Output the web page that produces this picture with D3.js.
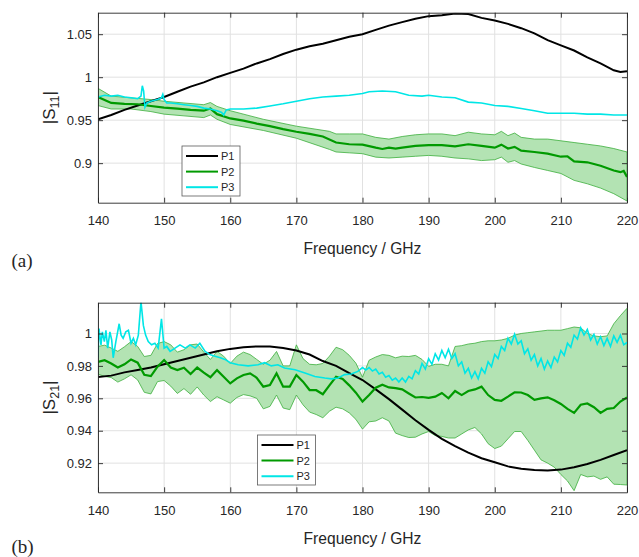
<!DOCTYPE html>
<html>
<head>
<meta charset="utf-8">
<style>
  body { margin: 0; background: #fff; }
  svg text { font-family: "Liberation Sans", Arial, Helvetica, sans-serif; fill: #262626; }
  .panelTag { font-family: "Liberation Serif", "Times New Roman", serif; }
</style>
</head>
<body>
<div id="fig"></div>
<script src="https://cdn.jsdelivr.net/npm/d3@7"></script>
<script>

// legend names + colours
var names = ['P1', 'P2', 'P3'];
var colors = ['#000000', '#009a00', '#00e6e6'];

// axis ticks
var xTicks = [140, 150, 160, 170, 180, 190, 200, 210, 220];
var yTicksA = [0.9, 0.95, 1, 1.05];
var yLabelsA = ['0.9', '0.95', '1', '1.05'];
var yTicksB = [0.92, 0.94, 0.96, 0.98, 1];
var yLabelsB = ['0.92', '0.94', '0.96', '0.98', '1'];

// ---------- (a) |S11| ----------

var fA1 = [140,142,144,146,148,150,152,154,156,158,160,162,164,166,168,170,172,174,176,178,180,182,184,186,188,190,192,194,196,198,200,202,204,206,208,210,212,214,216,218,219,220];
var s11P1 = [0.951,0.956,0.962,0.967,0.972,0.977,0.983,0.989,0.994,1.000,1.005,1.010,1.016,1.021,1.027,1.032,1.036,1.039,1.043,1.047,1.050,1.055,1.060,1.064,1.068,1.071,1.072,1.074,1.0735,1.069,1.066,1.062,1.057,1.051,1.043,1.037,1.031,1.023,1.016,1.008,1.006,1.007];

var fA2 = [140,142,144,146,148,150,152,154,156,157,158,160,162,164,166,168,170,172,174,176,178,180,182,183,184,185,186,188,190,192,194,196,198,200,201,202,203,204,206,208,210,211,212,214,216,218,219,219.5,220];
var s11P2 = [0.977,0.970,0.969,0.9685,0.9665,0.9645,0.9635,0.962,0.961,0.9635,0.957,0.952,0.9495,0.946,0.943,0.9395,0.9365,0.934,0.931,0.924,0.922,0.9215,0.918,0.9165,0.918,0.917,0.918,0.920,0.921,0.921,0.9195,0.922,0.920,0.918,0.9215,0.917,0.919,0.9145,0.913,0.911,0.9075,0.908,0.902,0.901,0.897,0.8915,0.8895,0.891,0.884];

var fA2band = [140,142,145,148,150,153,156,157,158,160,165,170,175,176,178,180,182,184,186,188,190,192,194,196,198,200,201,202,203,204,206,208,210,212,214,216,218,220];
var s11P2up = [0.987,0.978,0.976,0.974,0.972,0.970,0.968,0.9705,0.966,0.961,0.951,0.943,0.937,0.934,0.934,0.934,0.930,0.928,0.931,0.933,0.934,0.934,0.932,0.936,0.934,0.933,0.937,0.932,0.935,0.930,0.928,0.928,0.926,0.924,0.922,0.920,0.917,0.913];
var s11P2lo = [0.967,0.963,0.963,0.960,0.957,0.955,0.953,0.956,0.951,0.945,0.938,0.929,0.916,0.913,0.912,0.911,0.907,0.906,0.907,0.908,0.909,0.908,0.906,0.905,0.903,0.904,0.907,0.901,0.903,0.899,0.895,0.8915,0.888,0.880,0.876,0.871,0.8645,0.856];

var fA3 = [140,141,142,143,144,145,146,146.5,146.7,146.9,147.1,147.4,148,149,149.6,149.8,150,150.4,151,152,153,154,155,156,157,158,158.7,159,159.4,160,162,164,166,168,170,172,174,176,178,180,181,183,185,187,189,190,192,194,196,198,200,202,204,206,208,210,212,214,216,218,220];
var s11P3 = [0.977,0.979,0.978,0.979,0.977,0.976,0.975,0.978,0.990,0.984,0.965,0.970,0.972,0.974,0.976,0.980,0.974,0.970,0.970,0.969,0.968,0.967,0.966,0.964,0.963,0.961,0.959,0.956,0.962,0.963,0.963,0.964,0.9665,0.969,0.972,0.975,0.977,0.978,0.979,0.981,0.983,0.984,0.983,0.979,0.978,0.979,0.977,0.976,0.971,0.970,0.967,0.966,0.9635,0.961,0.958,0.958,0.958,0.957,0.957,0.956,0.956];

// ---------- (b) |S21| ----------

var fB1 = [140,142,144,146,148,150,152,154,156,158,160,162,164,166,168,170,172,174,176,178,180,182,184,186,188,190,192,194,196,198,200,202,204,206,208,210,212,214,216,218,220];
var s21P1 = [0.9732,0.974,0.976,0.9775,0.979,0.981,0.983,0.985,0.987,0.989,0.9905,0.9915,0.992,0.992,0.991,0.9895,0.987,0.983,0.980,0.9755,0.9713,0.9655,0.9595,0.953,0.9465,0.9405,0.935,0.9305,0.9265,0.923,0.9205,0.918,0.9165,0.9157,0.9155,0.916,0.9175,0.9195,0.922,0.925,0.928];

// P2 band sampled every GHz, 140..220
var fB2 = d3.range(140, 221, 1);
var s21P2 = [0.9825,0.9835,0.9815,0.979,0.981,0.984,0.982,0.9745,0.9737,0.9795,
  0.9836,0.979,0.9774,0.9789,0.975,0.979,0.9758,0.973,0.9774,0.9733,
  0.9692,0.9723,0.9744,0.9754,0.9727,0.9672,0.9682,0.9754,0.9672,0.9672,
  0.9744,0.9703,0.9651,0.965,0.9625,0.968,0.9733,0.972,0.968,0.9635,
  0.958,0.962,0.9665,0.9684,0.9667,0.9663,0.9655,0.963,0.9605,0.9608,
  0.9603,0.961,0.9633,0.960,0.9645,0.962,0.9645,0.9655,0.9672,0.962,
  0.959,0.9585,0.961,0.9637,0.9636,0.962,0.959,0.960,0.9606,0.9588,
  0.9565,0.9535,0.951,0.956,0.9568,0.9545,0.951,0.9535,0.954,0.958,
  0.9606];
var s21P2up = [0.992,0.9928,0.991,0.989,0.9918,0.995,0.992,0.9858,0.9865,0.9938,
  0.995,0.993,0.9885,0.990,0.993,0.9935,0.9885,0.984,0.989,0.986,
  0.9815,0.986,0.9885,0.987,0.984,0.981,0.9835,0.9889,0.980,0.980,
  0.993,0.9845,0.981,0.9807,0.9815,0.986,0.9915,0.990,0.9865,0.9817,
  0.973,0.9835,0.9855,0.987,0.9865,0.985,0.986,0.9858,0.9865,0.984,
  0.9797,0.981,0.981,0.980,0.992,0.9925,0.9935,0.994,0.995,0.9955,
  0.9955,0.996,0.997,0.999,1.0,1.0005,1.001,1.0015,1.002,1.002,
  1.002,1.003,1.004,1.0035,1.0,0.9985,0.998,0.9985,1.006,1.011,
  1.0155];
var s21P2lo = [0.975,0.9735,0.9728,0.970,0.972,0.9745,0.9713,0.9637,0.9627,0.9703,
  0.971,0.9675,0.963,0.966,0.9625,0.967,0.962,0.958,0.961,0.959,
  0.957,0.9605,0.9623,0.9615,0.960,0.9535,0.955,0.962,0.954,0.953,
  0.962,0.956,0.9515,0.950,0.948,0.952,0.9545,0.9535,0.951,0.947,
  0.941,0.9455,0.946,0.948,0.946,0.9385,0.937,0.9358,0.936,0.938,
  0.9395,0.937,0.9365,0.9355,0.9355,0.938,0.9405,0.942,0.938,0.932,
  0.929,0.9305,0.935,0.9395,0.9395,0.934,0.928,0.922,0.920,0.9175,
  0.913,0.909,0.903,0.913,0.9115,0.912,0.910,0.9115,0.907,0.9068,
  0.9065];

var fB3 = [140,140.15,140.45,140.66,140.96,141.2,141.46,141.8,142.07,142.3,142.7,143.2,143.5,143.8,144.2,144.6,145,145.35,145.7,146.1,146.5,146.86,147.2,147.6,148.1,148.6,149.1,149.6,150,150.4,150.9,151.65,152.4,153.2,153.9,154.7,155.4,156.2,156.9,157.7,158.5,159.2,160,161.2,162.7,164.2,165.2,166.2,167.2,168.2,169.8,171.3,172.8,174.3,175.3,176.3,177.3,178.3,179.3,
  180,180.5,181,181.5,182,182.5,183,183.5,184,184.5,185,185.5,186,186.5,187,187.5,188,188.5,189,189.5,
  190,190.5,191,191.5,192,192.5,193,193.5,194,194.5,195,195.5,196,196.5,197,197.5,198,198.5,199,199.5,
  200,200.5,201,201.5,202,202.5,203,203.5,204,204.5,205,205.5,206,206.5,207,207.5,208,208.5,209,209.5,
  210,210.5,211,211.5,212,212.5,213,213.5,214,214.5,215,215.5,216,216.5,217,217.5,218,218.5,219,219.5,220];
var s21P3 = [0.985,1.003,0.993,1.001,0.995,1.002,0.991,1.001,0.996,0.985,0.995,1.006,0.999,0.997,1.001,1.002,0.994,0.997,0.993,0.999,1.0197,1.005,0.999,0.995,0.993,0.994,0.991,1.009,0.991,0.992,0.989,0.991,0.993,0.991,0.993,0.991,0.994,0.989,0.987,0.986,0.985,0.984,0.982,0.9807,0.980,0.9807,0.982,0.980,0.9807,0.9787,0.9776,0.9756,0.9735,0.9725,0.972,0.9725,0.9746,0.975,0.9766,
  0.979,0.9775,0.979,0.9768,0.978,0.975,0.976,0.973,0.974,0.9712,0.9725,0.970,0.9725,0.970,0.9735,0.972,0.977,0.975,0.9815,0.978,
  0.9845,0.981,0.9875,0.9837,0.9895,0.985,0.9903,0.9845,0.9875,0.980,0.9825,0.9755,0.9785,0.9725,0.9765,0.972,0.9785,0.9755,0.9825,0.9795,
  0.987,0.9845,0.992,0.9895,0.997,0.9935,0.9995,0.9935,0.9955,0.9875,0.9905,0.9835,0.987,0.980,0.9845,0.978,0.983,0.979,0.9855,0.9825,
  0.9895,0.9865,0.994,0.9915,0.999,0.9965,1.0035,0.999,1.0025,0.996,0.9995,0.9935,0.998,0.9925,0.997,0.992,0.9985,0.9945,0.999,0.993,0.9945];

// ---------- drawing ----------

var W = 639, H = 557;
var svg = d3.select('#fig')
  .append('svg')
  .attr('width', W)
  .attr('height', H);

var x = d3.scaleLinear().domain([140, 220]).range([98, 627]);

function zip(f, v) {
  return f.map(function(d, i) { return {f: d, v: v[i]}; });
}

function drawPanel(cfg) {
  var y = d3.scaleLinear().domain(cfg.yDomain).range([cfg.bottom, cfg.top]);
  var g = svg.append('g');
  var clipId = 'clip' + cfg.id;

  g.append('clipPath').attr('id', clipId)
    .append('rect')
    .attr('x', x.range()[0]).attr('y', cfg.top)
    .attr('width', x.range()[1] - x.range()[0])
    .attr('height', cfg.bottom - cfg.top);

  // grid
  g.selectAll('line.gx').data(xTicks).enter().append('line')
    .attr('x1', function(d) { return x(d); }).attr('x2', function(d) { return x(d); })
    .attr('y1', cfg.top).attr('y2', cfg.bottom)
    .attr('stroke', '#e1e1e1').attr('stroke-width', 1);
  g.selectAll('line.gy').data(cfg.yTicks).enter().append('line')
    .attr('x1', x.range()[0]).attr('x2', x.range()[1])
    .attr('y1', function(d) { return y(d); }).attr('y2', function(d) { return y(d); })
    .attr('stroke', '#e1e1e1').attr('stroke-width', 1);

  var plot = g.append('g').attr('clip-path', 'url(#' + clipId + ')');

  // P2 spread band
  var band = cfg.bandF.map(function(d, i) { return {f: d, up: cfg.bandUp[i], lo: cfg.bandLo[i]}; });
  plot.append('path').datum(band)
    .attr('d', d3.area()
      .x(function(d) { return x(d.f); })
      .y0(function(d) { return y(d.lo); })
      .y1(function(d) { return y(d.up); }))
    .attr('fill', '#b3e3b3')
    .attr('stroke', '#3cae3c')
    .attr('stroke-width', 0.8);

  var line = d3.line()
    .x(function(d) { return x(d.f); })
    .y(function(d) { return y(d.v); });

  plot.append('path').datum(zip(cfg.p1F, cfg.p1))
    .attr('d', line).attr('fill', 'none')
    .attr('stroke', colors[0]).attr('stroke-width', 2);
  plot.append('path').datum(zip(cfg.p2F, cfg.p2))
    .attr('d', line).attr('fill', 'none')
    .attr('stroke', colors[1]).attr('stroke-width', 2.2);
  plot.append('path').datum(zip(cfg.p3F, cfg.p3))
    .attr('d', line).attr('fill', 'none')
    .attr('stroke', colors[2]).attr('stroke-width', 1.6);

  // axes (ticks pointing inwards, box on)
  var ax = g.append('g').attr('class', 'axes');
  ax.append('g')
    .attr('transform', 'translate(0,' + cfg.bottom + ')')
    .call(d3.axisBottom(x).tickValues(xTicks).tickFormat(d3.format('d'))
      .tickSizeInner(-5).tickSizeOuter(0).tickPadding(13));
  ax.append('g')
    .attr('transform', 'translate(0,' + cfg.top + ')')
    .call(d3.axisTop(x).tickValues(xTicks).tickFormat('')
      .tickSizeInner(-5).tickSizeOuter(0));
  ax.append('g')
    .attr('transform', 'translate(' + x.range()[0] + ',0)')
    .call(d3.axisLeft(y).tickValues(cfg.yTicks)
      .tickFormat(function(d, i) { return cfg.yLabels[i]; })
      .tickSizeInner(-5).tickSizeOuter(0).tickPadding(6));
  ax.append('g')
    .attr('transform', 'translate(' + x.range()[1] + ',0)')
    .call(d3.axisRight(y).tickValues(cfg.yTicks).tickFormat('')
      .tickSizeInner(-5).tickSizeOuter(0));
  ax.selectAll('.domain, .tick line').attr('stroke', '#262626').attr('stroke-width', 0.9);
  ax.selectAll('.tick text')
    .attr('fill', '#262626')
    .style('font-size', '13px')
    .style('font-family', '"Liberation Sans", Arial, sans-serif');

  // labels
  g.append('text')
    .attr('x', (x.range()[0] + x.range()[1]) / 2)
    .attr('y', cfg.bottom + 51.5)
    .attr('text-anchor', 'middle')
    .style('font-size', '15.6px')
    .text('Frequency / GHz');

  var yl = g.append('text')
    .attr('transform', 'translate(55,' + ((cfg.top + cfg.bottom) / 2) + ') rotate(-90)')
    .attr('text-anchor', 'middle')
    .style('font-size', '17px');
  yl.append('tspan').text('|S');
  yl.append('tspan').attr('dy', 4).style('font-size', '12.5px').text(cfg.sub);
  yl.append('tspan').attr('dy', -4).text('|');

  g.append('text')
    .attr('class', 'panelTag')
    .attr('x', 11.5)
    .attr('y', cfg.tagY)
    .style('font-size', '19px')
    .text(cfg.tag);

  // legend
  var lg = g.append('g').attr('transform', 'translate(' + cfg.legX + ',' + cfg.legY + ')');
  lg.append('rect')
    .attr('width', 58).attr('height', 50)
    .attr('fill', '#fff').attr('stroke', '#5a5a5a').attr('stroke-width', 0.8);
  var item = lg.selectAll('g.item').data(names).enter().append('g')
    .attr('transform', function(d, i) { return 'translate(0,' + (10 + i * 15.6) + ')'; });
  item.append('line')
    .attr('x1', 4).attr('x2', 36)
    .attr('stroke', function(d, i) { return colors[i]; })
    .attr('stroke-width', 2);
  item.append('text')
    .attr('x', 39).attr('dy', '0.36em')
    .style('font-size', '11px')
    .text(function(d) { return d; });
}

drawPanel({
  id: 'A', top: 12.7, bottom: 202.7, yDomain: [0.854, 1.075],
  yTicks: yTicksA, yLabels: yLabelsA, sub: '11', tag: '(a)', tagY: 266.5,
  p1F: fA1, p1: s11P1, p2F: fA2, p2: s11P2, p3F: fA3, p3: s11P3,
  bandF: fA2band, bandUp: s11P2up, bandLo: s11P2lo,
  legX: 182, legY: 146
});

drawPanel({
  id: 'B', top: 302.7, bottom: 492.3, yDomain: [0.902, 1.019],
  yTicks: yTicksB, yLabels: yLabelsB, sub: '21', tag: '(b)', tagY: 552.5,
  p1F: fB1, p1: s21P1, p2F: fB2, p2: s21P2, p3F: fB3, p3: s21P3,
  bandF: fB2, bandUp: s21P2up, bandLo: s21P2lo,
  legX: 257.5, legY: 435
});

</script>
</body>
</html>
